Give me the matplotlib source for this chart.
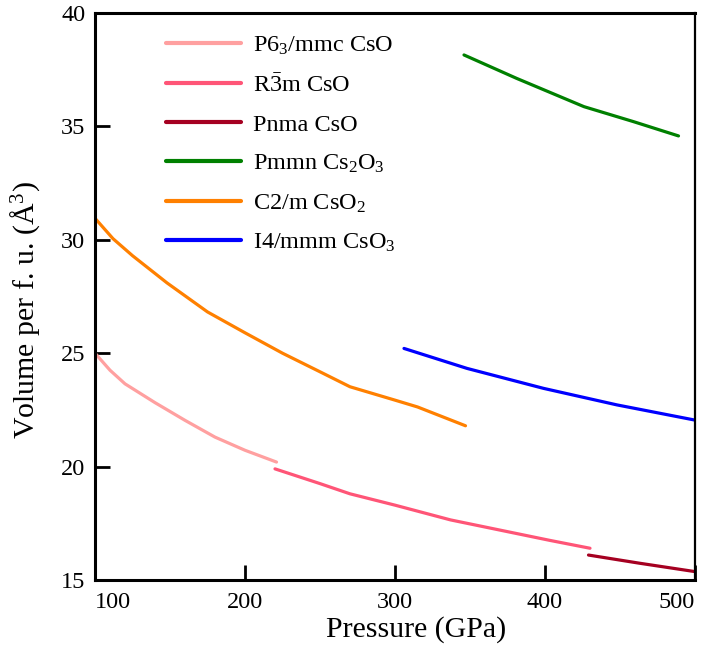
import matplotlib
matplotlib.use("Agg")
import matplotlib.pyplot as plt

plt.rcParams["font.family"] = ["Liberation Serif", "DejaVu Serif"]
plt.rcParams["mathtext.fontset"] = "custom"
plt.rcParams["mathtext.rm"] = "Liberation Serif"
plt.rcParams["mathtext.it"] = "Liberation Serif:italic"
plt.rcParams["mathtext.bf"] = "Liberation Serif:bold"

# Equation-of-state curves: pressure (GPa) vs volume per formula unit (Å^3)
p_p63 = [100, 110, 120, 140, 160, 180, 200, 221]
v_p63 = [25.0, 24.25, 23.65, 22.82, 22.04, 21.30, 20.72, 20.2]

p_r3m = [220, 250, 270, 300, 337, 370, 403, 430]
v_r3m = [19.9, 19.25, 18.8, 18.3, 17.65, 17.2, 16.75, 16.4]

p_pnma = [429, 463, 500]
v_pnma = [16.1, 15.74, 15.37]

p_pmmn = [346, 381, 426, 459, 489]
v_pmmn = [38.15, 37.12, 35.87, 35.21, 34.58]

p_c2m = [100, 112, 125, 148, 175, 200, 225, 250, 270, 300, 315, 347]
v_c2m = [30.95, 30.05, 29.3, 28.1, 26.82, 25.9, 25.0, 24.18, 23.52, 22.93, 22.63, 21.8]

p_i4 = [306, 348, 399, 448, 500]
v_i4 = [25.21, 24.33, 23.45, 22.72, 22.05]

labels = [r"P6$_3$/mmc CsO", r"R$\bar{3}$m CsO", "Pnma CsO",
          r"Pmmn Cs$_2$O$_3$", r"C2/m CsO$_2$", r"I4/mmm CsO$_3$"]
colors = ["#ffa0a0", "#ff5577", "#a50021", "#008000", "#ff8000", "#0000ff"]

fig = plt.figure(figsize=(7.04, 6.55), dpi=100)
ax = fig.add_axes([95 / 704, 75 / 655, 600 / 704, 567 / 655])

series = [(p_p63, v_p63), (p_r3m, v_r3m), (p_pnma, v_pnma),
          (p_pmmn, v_pmmn), (p_c2m, v_c2m), (p_i4, v_i4)]
for (p, v), c, lab in zip(series, colors, labels):
    ax.plot(p, v, color=c, lw=2.3, label=lab, solid_capstyle="round")

ax.set_xlim(100, 500)
ax.set_ylim(15, 40)
ax.set_xticks([100, 200, 300, 400, 500])
ax.set_yticks([15, 20, 25, 30, 35, 40])
ax.tick_params(direction="in", length=11, width=2, labelsize=17.5)
ax.tick_params(axis="x", pad=9)
ax.tick_params(axis="y", pad=7)
xt = ax.get_xticklabels()
xt[0].set_horizontalalignment("left")
xt[-1].set_horizontalalignment("right")
for side in ["left", "bottom", "top"]:
    ax.spines[side].set_linewidth(2.2)
ax.spines["right"].set_linewidth(1.6)

ax.set_xlabel("Pressure (GPa)", fontsize=21.5)
ax.set_ylabel("Volume per f. u. (Å$^3$)", fontsize=21.5)
ax.xaxis.set_label_coords(0.535, -0.064)
ax.yaxis.set_label_coords(-0.088, 0.476)

leg = ax.legend(loc="upper left", bbox_to_anchor=(0.118, 0.962), frameon=False,
                fontsize=17.5, handlelength=3.1, handletextpad=0.5,
                labelspacing=0.7, borderpad=0, borderaxespad=0)
for h in leg.get_lines():
    h.set_linewidth(3)

fig.savefig("out.png", dpi=100)
